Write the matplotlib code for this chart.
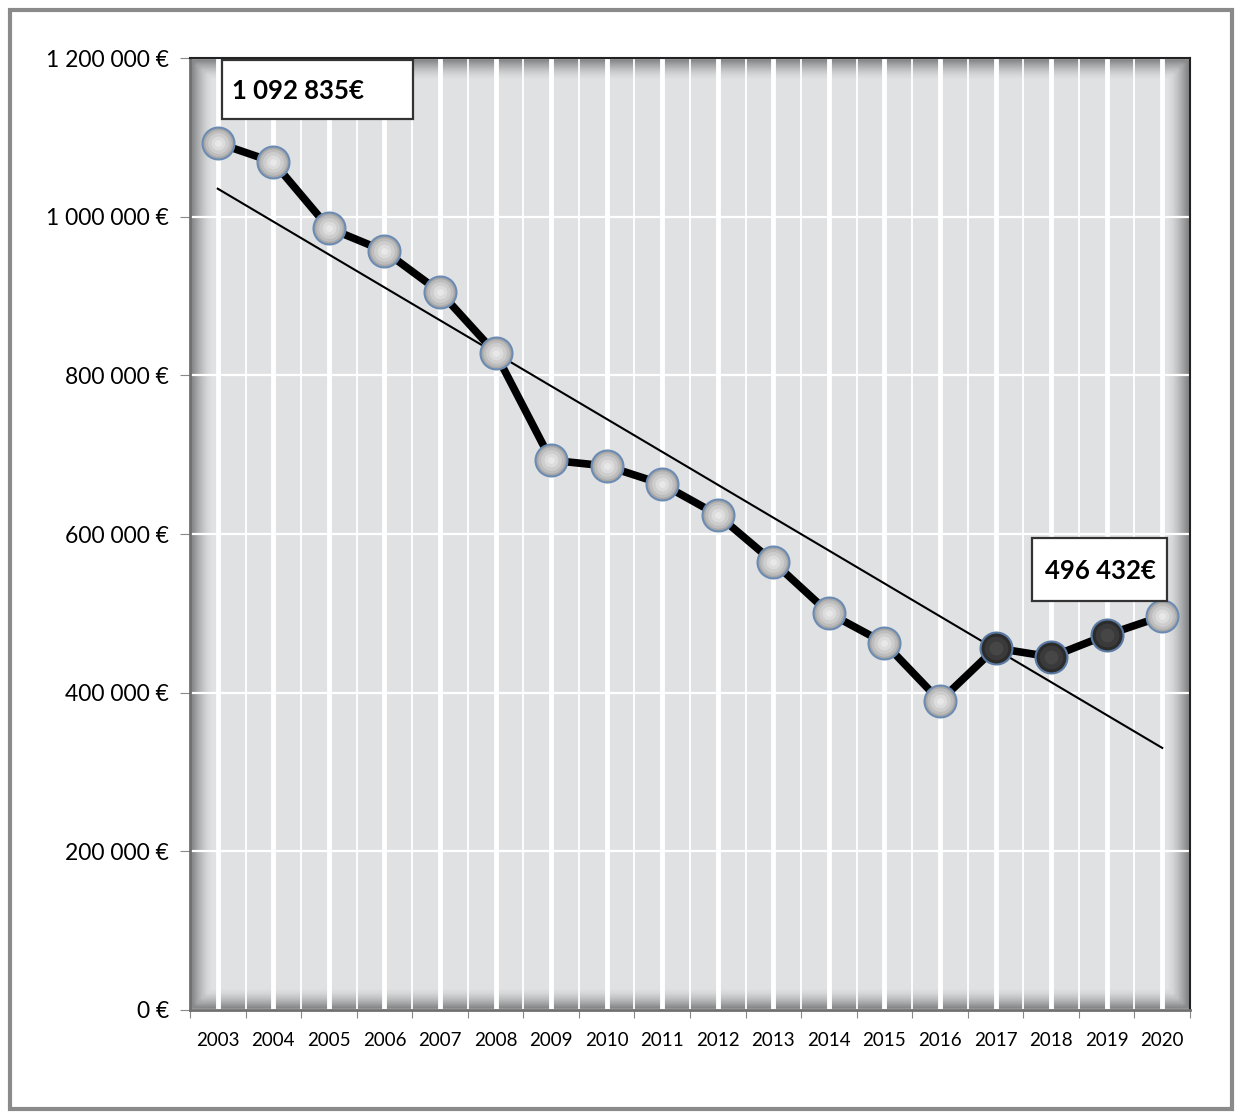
import numpy as np
import matplotlib
matplotlib.use('Agg')
import matplotlib.pyplot as plt
from matplotlib.ticker import FuncFormatter, FixedLocator
from matplotlib.patches import Rectangle

plt.rcParams['font.family'] = ['Lato', 'DejaVu Sans']

# données
years = ['2003', '2004', '2005', '2006', '2007', '2008', '2009', '2010', '2011',
         '2012', '2013', '2014', '2015', '2016', '2017', '2018', '2019', '2020']
values = [1092835, 1068900, 985700, 956700, 905000, 828000, 693000, 685700, 663000,
          624000, 564700, 500400, 462600, 389500, 456300, 445000, 472700, 496432]
dark_years = ['2017', '2018', '2019']
label_first = '1 092 835€'
label_last = '496 432€'

x = np.arange(len(years))
y = np.array(values)

fig = plt.figure(figsize=(12.42, 11.19), dpi=100)
ax = fig.add_axes([190/1242, 1 - 1010/1119, 1000/1242, 952/1119])

# cadre extérieur
fig.patches.append(Rectangle((0.008, 0.009), 0.984, 0.982, transform=fig.transFigure,
                             fill=False, edgecolor='#8a8a8a', linewidth=3))

# fond du graphique (marbre approximé) + ombre intérieure
ax.set_facecolor('#dfe1e3')
g = np.linspace(-1, 1, 200)
gx, gy = np.meshgrid(g, g)
edge = np.maximum(np.abs(gx), np.abs(gy))
shade = np.zeros((200, 200, 4))
shade[..., 3] = np.clip((edge - 0.96) / 0.04, 0, 1) ** 1.5 * 0.4
ax.imshow(shade, extent=[-0.5, 17.5, 0, 1200000], aspect='auto', zorder=0,
          interpolation='bilinear')

ax.set_xlim(-0.5, 17.5)
ax.set_ylim(0, 1200000)

# grilles
ax.xaxis.set_major_locator(FixedLocator(np.arange(-0.5, 18, 1)))
ax.xaxis.set_minor_locator(FixedLocator(x))
ax.set_xticklabels([], minor=False)
ax.set_xticklabels(years, minor=True)
ax.tick_params(axis='x', which='minor', length=0, pad=16, labelsize=13.5)
ax.tick_params(axis='x', which='major', length=6, color='#888888')
ax.grid(axis='x', which='major', color='white', linewidth=1.3, zorder=1)
ax.grid(axis='x', which='minor', color='white', linewidth=3.5, zorder=1)

ax.set_yticks(np.arange(0, 1200001, 200000))
ax.yaxis.set_major_formatter(FuncFormatter(lambda v, p: f'{int(v):,} €'.replace(',', ' ')))
ax.tick_params(axis='y', length=7, color='#888888', labelsize=16.5, pad=8)
ax.grid(axis='y', color='white', linewidth=1.6, zorder=1)
ax.set_axisbelow(True)

for s in ['left', 'bottom']:
    ax.spines[s].set_color('#707070')
    ax.spines[s].set_linewidth(2)
for s in ['top', 'right']:
    ax.spines[s].set_color('#222222')
    ax.spines[s].set_linewidth(1.5)

# courbe de tendance
coef = np.polyfit(x, y, 1)
ax.plot(x, np.polyval(coef, x), color='black', linewidth=1.5, zorder=3)

# série principale
ax.plot(x, y, color='black', linewidth=5.5, zorder=4)
dark = np.array([yr in dark_years for yr in years])
light_layers = [(23, '#a8a8a8'), (19, '#bdbdbd'), (15, '#cdcdcd'), (10, '#dcdcdc'), (5, '#e8e8e8')]
for i, (ms, fc) in enumerate(light_layers):
    ax.plot(x[~dark], y[~dark], 'o', markersize=ms, markerfacecolor=fc,
            markeredgecolor='#6b8bb3' if i == 0 else fc,
            markeredgewidth=1.5 if i == 0 else 0, zorder=5 + i)
dark_layers = [(23, '#2c2c2c'), (17, '#3a3a3a'), (10, '#464646')]
for i, (ms, fc) in enumerate(dark_layers):
    ax.plot(x[dark], y[dark], 'o', markersize=ms, markerfacecolor=fc,
            markeredgecolor='#5a7aa3' if i == 0 else fc,
            markeredgewidth=1.5 if i == 0 else 0, zorder=5 + i)

# étiquettes
for (x0, x1, y0, y1) in [(0.076, 3.51, 1123100, 1197500), (14.655, 17.085, 515550, 594960)]:
    ax.add_patch(Rectangle((x0, y0), x1 - x0, y1 - y0, facecolor='white',
                           edgecolor='#333333', linewidth=1.6, zorder=12))
ax.text(0.256, 1158000, label_first, fontsize=18.5, fontweight='bold', va='center',
        ha='left', zorder=13)
ax.text(15.88, 553000, label_last, fontsize=18.5, fontweight='bold', va='center',
        ha='center', zorder=13)

fig.savefig('out.png', dpi=100, facecolor='white')
